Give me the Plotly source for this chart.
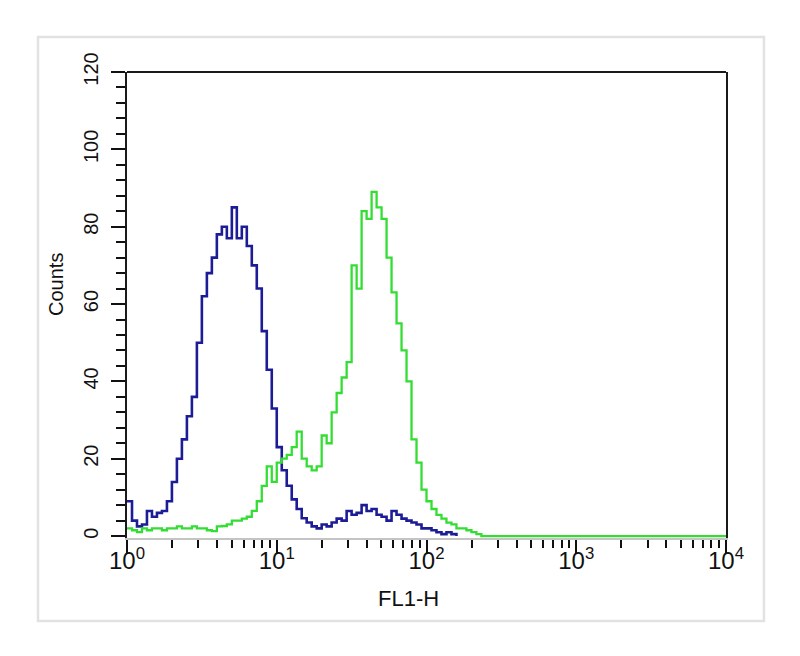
import plotly.graph_objects as go

# FL1-H channel positions (log-spaced channels)
fl1 = [1.000, 1.080, 1.166, 1.259, 1.359, 1.468, 1.585, 1.711, 1.848, 1.995,
       2.154, 2.326, 2.512, 2.712, 2.929, 3.162, 3.415, 3.687, 3.981, 4.299,
       4.642, 5.012, 5.412, 5.843, 6.310, 6.813, 7.356, 7.943, 8.577, 9.261,
       10.00, 10.80, 11.66, 12.59, 13.59, 14.68, 15.85, 17.11, 18.48, 19.95,
       21.54, 23.26, 25.12, 27.12, 29.29, 31.62, 34.15, 36.87, 39.81, 42.99,
       46.42, 50.12, 54.12, 58.43, 63.10, 68.13, 73.56, 79.43, 85.77, 92.61,
       100.0, 108.0, 116.6, 125.9, 135.9, 146.8, 158.5, 171.1, 184.8, 199.5,
       215.4, 232.6, 10000]

# Control (blue) counts
blue_counts = [9, 4, 2.5, 3, 6.5, 5, 6, 6.5, 9, 14,
               20, 25, 31, 36, 50, 62, 68, 72, 78, 80,
               77, 85, 77, 80, 75, 70, 64, 53, 43, 33,
               23, 17, 13, 9.5, 7, 4.6, 3.5, 2.5, 2, 3,
               2.5, 3.5, 4.5, 4, 6.5, 5.5, 6, 8, 6.5, 7,
               5.5, 5, 4, 6.5, 5.5, 4.5, 4, 3.5, 3, 2,
               2, 1.5, 1, 0.5, 1, 0.5, 0]

# Sample (green) counts
green_counts = [2, 1.5, 1, 2, 1.5, 2, 2, 1.5, 2, 2,
                2.5, 2, 2, 2.5, 2, 2, 1.5, 1.3, 2.5, 2.6,
                3, 4, 4, 4.5, 5, 6.5, 9, 13, 18, 14,
                19, 20, 21, 23, 27, 20, 18, 17, 18, 26,
                24, 32, 37, 41, 45, 70, 64, 84, 82, 89,
                85, 82, 72, 63, 55, 48, 40, 25, 19, 12,
                9, 7, 5.5, 4.5, 3.5, 3, 2, 2, 1.5, 1,
                0.5, 0, 0]

x_tickvals = [1, 10, 100, 1000, 10000]
x_exponents = ["0", "1", "2", "3", "4"]
x_minor = [m * d for d in [1, 10, 100, 1000] for m in range(2, 10)]
y_tickvals = [0, 20, 40, 60, 80, 100, 120]

x_ticktext = ["10<sup style='font-size:20px'>%s</sup>" % e for e in x_exponents]

FONT = "Liberation Sans, Arial, Helvetica, sans-serif"

fig = go.Figure()
fig.add_trace(go.Scatter(x=fl1[:len(blue_counts)], y=blue_counts, mode="lines",
                         line=dict(color="#1c1c96", width=2.6, shape="hv"),
                         showlegend=False))
fig.add_trace(go.Scatter(x=fl1, y=green_counts, mode="lines",
                         line=dict(color="#33dd33", width=2.3, shape="hv"),
                         showlegend=False))

fig.update_layout(
    width=792, height=648,
    margin=dict(l=119, r=74, t=64, b=118),
    paper_bgcolor="white", plot_bgcolor="white",
    font=dict(family=FONT, color="#111111"),
    showlegend=False,
    xaxis=dict(
        type="log", range=[0, 4],
        tickvals=x_tickvals, ticktext=x_ticktext,
        tickfont=dict(size=24, family=FONT, color="#111111"),
        ticks="outside", ticklen=14, tickwidth=2, tickcolor="#111111",
        ticklabelstandoff=-14,
        minor=dict(tickvals=x_minor, ticks="outside", ticklen=8, tickwidth=2, tickcolor="#111111"),
        showline=True, linecolor="#c4c4c4", linewidth=2,
        showgrid=False, zeroline=False, layer="below traces",
    ),
    yaxis=dict(
        range=[-0.5, 120],
        tickvals=y_tickvals, tickangle=-90,
        tickfont=dict(size=20, family=FONT, color="#111111"),
        ticks="outside", ticklen=14, tickwidth=2, tickcolor="#111111",
        ticklabelstandoff=5,
        minor=dict(dtick=4, ticks="outside", ticklen=9, tickwidth=2, tickcolor="#111111"),
        showline=True, mirror=True, linecolor="#1a1a1a", linewidth=2,
        showgrid=False, zeroline=False,
    ),
    shapes=[
        dict(type="line", xref="paper", yref="paper", x0=0, x1=1, y0=1, y1=1,
             line=dict(color="#1a1a1a", width=2)),
        dict(type="rect", xref="paper", yref="paper", x0=-0.1486, x1=1.0634, y0=-0.1781, y1=1.0751,
             line=dict(color="#e2e2e2", width=2.5), layer="below"),
    ],
    annotations=[
        dict(text="Counts", xref="paper", yref="paper", x=-0.1185, y=0.543,
             xanchor="center", yanchor="middle",
             textangle=-90, showarrow=False, font=dict(size=20, family=FONT, color="#111111")),
        dict(text="FL1-H", xref="paper", yref="paper", x=0.47, y=-0.129,
             xanchor="center", yanchor="middle",
             showarrow=False, font=dict(size=22, family=FONT, color="#111111")),
    ],
)

fig.write_html("out.html")
